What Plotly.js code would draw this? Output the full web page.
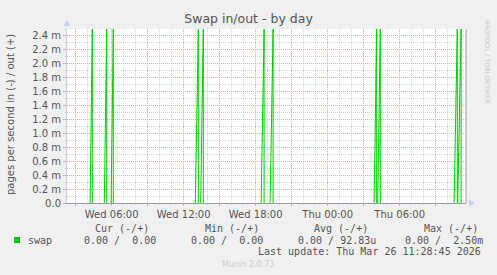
<!DOCTYPE html>
<html>
<head>
<meta charset="utf-8">
<script src="https://cdn.plot.ly/plotly-3.0.1.min.js"></script>
<style>
html,body{margin:0;padding:0;background:#f0f0f0;}
#chart{width:497px;height:275px;}
</style>
</head>
<body>
<div id="chart"></div>
<script>
// ---- data ----
const spikeStart = ['2026-03-25 04:12','2026-03-25 05:23','2026-03-25 05:57','2026-03-25 12:58','2026-03-25 13:25',
                    '2026-03-25 18:27','2026-03-25 19:12','2026-03-26 03:52','2026-03-26 04:10','2026-03-26 10:32','2026-03-26 10:50'];
const spikePeak  = ['2026-03-25 04:23','2026-03-25 05:35','2026-03-25 06:08','2026-03-25 13:13','2026-03-25 13:38',
                    '2026-03-25 18:42','2026-03-25 19:27','2026-03-26 04:05','2026-03-26 04:23','2026-03-26 10:48','2026-03-26 11:07'];
const peakValues = [0.0025,0.0025,0.0025,0.0025,0.0025,0.0025,0.0025,0.0025,0.0025,0.0025,0.0025];

const xRange = ['2026-03-25 02:16:30','2026-03-26 11:31:30'];
const xTickVals = ['2026-03-25 03:00','2026-03-25 06:00','2026-03-25 09:00','2026-03-25 12:00','2026-03-25 15:00',
                   '2026-03-25 18:00','2026-03-25 21:00','2026-03-26 00:00','2026-03-26 03:00','2026-03-26 06:00','2026-03-26 09:00'];
const xTickText = ['','Wed 06:00','','Wed 12:00','','Wed 18:00','','Thu 00:00','','Thu 06:00',''];

const yTickVals = [0,0.0002,0.0004,0.0006,0.0008,0.0010,0.0012,0.0014,0.0016,0.0018,0.0020,0.0022,0.0024];
const yTickText = ['0.0','0.2 m','0.4 m','0.6 m','0.8 m','1.0 m','1.2 m','1.4 m','1.6 m','1.8 m','2.0 m','2.2 m','2.4 m'];

const seriesName = 'swap';
const statHeaders = ['Cur (-/+)','Min (-/+)','Avg (-/+)','Max (-/+)'];
const statIn  = ['0.00','0.00','0.00','0.00'];
const statOut = ['0.00','0.00','92.83u','2.50m'];
const lastUpdate = 'Last update: Thu Mar 26 11:28:45 2026';
const titleText = 'Swap in/out - by day';
const yTitle = 'pages per second in (-) / out (+)';
const sideText = 'RRDTOOL / TOBI OETIKER';
const footer = 'Munin 2.0.73';

// ---- build trace ----
const xs = [], ys = [];
for (let i = 0; i < spikeStart.length; i++) {
  xs.push(spikeStart[i], spikePeak[i], spikePeak[i], null);
  ys.push(0, peakValues[i], 0, null);
}

// layout helpers (pixel -> paper)
const L = 67, R = 31, T = 29, B = 72, W = 497, H = 275;
const PW = W - L - R, PH = H - T - B;
const fx = p => (p - L) / PW;
const fy = p => (H - B - p) / PH;
const NB = s => s.replace(/ /g, '\u00a0');
const mono = {family: 'DejaVu Sans Mono', size: 10, color: '#555'};

function pair(a, b) {
  const bb = /[a-zA-Z]$/.test(b) ? b : b + ' ';
  return a + ' /' + bb.padStart(7);
}

const ann = [];
ann.push({text: yTitle, textangle: -90, x: fx(11), y: fy(115), xref: 'paper', yref: 'paper',
  showarrow: false, xanchor: 'center', yanchor: 'middle', font: {family: 'DejaVu Sans', size: 10, color: '#555'}});
ann.push({text: sideText, textangle: 90, x: fx(487), y: fy(62), xref: 'paper', yref: 'paper',
  showarrow: false, xanchor: 'center', yanchor: 'middle', font: {family: 'DejaVu Sans', size: 6.5, color: '#c8c8c8'}});
const headX = [94, 204, 313, 423];
const valX = [83, 190, 297, 404];
for (let i = 0; i < 4; i++) {
  ann.push({text: NB(statHeaders[i]), x: fx(headX[i]), y: fy(228), xref: 'paper', yref: 'paper',
    showarrow: false, xanchor: 'left', yanchor: 'middle', borderpad: 0, font: mono});
  ann.push({text: NB(pair(statIn[i], statOut[i])), x: fx(valX[i]), y: fy(240), xref: 'paper', yref: 'paper',
    showarrow: false, xanchor: 'left', yanchor: 'middle', borderpad: 0, font: mono});
}
ann.push({text: seriesName, x: fx(27), y: fy(240), xref: 'paper', yref: 'paper',
  showarrow: false, xanchor: 'left', yanchor: 'middle', borderpad: 0, font: mono});
ann.push({text: NB(lastUpdate), x: fx(482), y: fy(251), xref: 'paper', yref: 'paper',
  showarrow: false, xanchor: 'right', yanchor: 'middle', borderpad: 0, font: mono});
ann.push({text: footer, x: fx(248), y: fy(264), xref: 'paper', yref: 'paper',
  showarrow: false, xanchor: 'center', yanchor: 'middle', font: {family: 'DejaVu Sans', size: 8, color: '#cccccc'}});

const shapes = [
  {type: 'rect', xref: 'paper', yref: 'paper', x0: fx(14), x1: fx(20), y0: fy(243), y1: fy(237),
   fillcolor: '#00cc00', line: {width: 0}},
  {type: 'line', xref: 'paper', yref: 'paper', x0: 1, x1: 1, y0: 0, y1: 1, line: {color: '#a0a0a0', width: 1}},
  {type: 'path', xref: 'paper', yref: 'paper', fillcolor: '#c8d0f0', line: {width: 0},
   path: `M ${fx(63.5)},${fy(26)} L ${fx(70.5)},${fy(26)} L ${fx(67)},${fy(20)} Z`},
  {type: 'path', xref: 'paper', yref: 'paper', fillcolor: '#c8d0f0', line: {width: 0},
   path: `M ${fx(469)},${fy(199.5)} L ${fx(469)},${fy(206.5)} L ${fx(475)},${fy(203)} Z`}
];

const trace = {x: xs, y: ys, type: 'scatter', mode: 'lines', connectgaps: false,
  line: {color: '#00cc00', width: 1}, hoverinfo: 'skip', showlegend: false};

const layout = {
  width: W, height: H,
  margin: {l: L, r: R, t: T, b: B, pad: 0},
  paper_bgcolor: '#f0f0f0', plot_bgcolor: '#ffffff',
  showlegend: false,
  title: {text: titleText, x: 0.5, xref: 'container', xanchor: 'center', y: 1 - 19 / H, yref: 'container', yanchor: 'middle',
    font: {family: 'DejaVu Sans', size: 12.5, color: '#555'}},
  xaxis: {type: 'date', range: xRange, tickmode: 'array', tickvals: xTickVals, ticktext: xTickText,
    showgrid: true, gridcolor: '#e4a8a8', griddash: '1px,1px', gridwidth: 1,
    ticks: 'outside', ticklen: 2, tickcolor: '#e4a8a8', zeroline: false,
    showline: true, linecolor: '#9a9aae', linewidth: 1,
    tickfont: {family: 'DejaVu Sans', size: 10, color: '#555'},
    minor: {tickmode: 'linear', tick0: '2026-03-25 00:00', dtick: 3600000, showgrid: true,
      gridcolor: '#d4d4d4', griddash: '1px,1px', gridwidth: 1, ticks: 'outside', ticklen: 1, tickcolor: '#ccc'},
    fixedrange: true},
  yaxis: {range: [0, 0.0025], tickmode: 'array', tickvals: yTickVals, ticktext: yTickText,
    showgrid: true, gridcolor: '#e4a8a8', griddash: '1px,1px', gridwidth: 1,
    ticks: 'outside', ticklen: 3, tickcolor: '#e4a8a8', zeroline: false,
    showline: true, linecolor: '#c8d0f0', linewidth: 1,
    tickfont: {family: 'DejaVu Sans', size: 10, color: '#555'},
    minor: {tickmode: 'linear', tick0: 0, dtick: 0.0001, showgrid: true,
      gridcolor: '#d4d4d4', griddash: '1px,1px', gridwidth: 1, ticks: 'outside', ticklen: 1, tickcolor: '#ccc'},
    fixedrange: true},
  annotations: ann,
  shapes: shapes
};

Plotly.newPlot('chart', [trace], layout, {staticPlot: true, displayModeBar: false});
</script>
</body>
</html>
